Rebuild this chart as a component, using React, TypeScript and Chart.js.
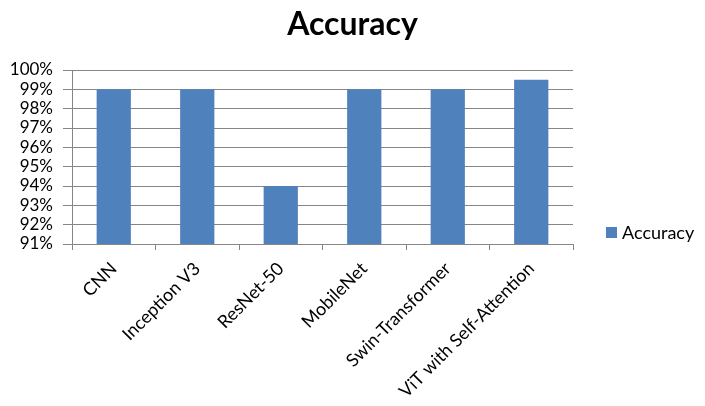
import React, { useEffect, useRef } from 'react';
import { Chart, registerables } from 'chart.js';

Chart.register(...registerables);

const chartTitle = 'Accuracy';
const seriesName = 'Accuracy';
const categories = ['CNN', 'Inception V3', 'ResNet-50', 'MobileNet', 'Swin-Transformer', 'ViT with Self-Attention'];
const accuracyValues = [99, 99, 94, 99, 99, 99.5];
const yMin = 91;
const yMax = 100;
const yStep = 1;

const FONT = 'Lato, "Liberation Sans", sans-serif';
const BAR_COLOR = '#4F81BD';
const GRID_COLOR = '#868686';

const legendPlugin = {
  id: 'rightLegend',
  afterDraw(chart: any) {
    const ctx = chart.ctx;
    const a = chart.chartArea;
    chart.data.datasets.forEach((ds: any) => {
      const x = a.right + 33;
      const y = a.bottom - 11.5;
      ctx.save();
      ctx.fillStyle = ds.backgroundColor;
      ctx.fillRect(x, y - 5.5, 11, 11);
      ctx.fillStyle = '#000';
      ctx.font = `18px ${FONT}`;
      ctx.textBaseline = 'middle';
      ctx.textAlign = 'left';
      ctx.fillText(ds.label, x + 16, y + 1);
      ctx.restore();
    });
  },
};

export default function App() {
  const ref = useRef<HTMLCanvasElement>(null);
  useEffect(() => {
    if (!ref.current) return;
    const chart = new Chart(ref.current, {
      type: 'bar',
      data: {
        labels: categories,
        datasets: [
          {
            label: seriesName,
            data: accuracyValues,
            backgroundColor: BAR_COLOR,
            borderWidth: 0,
            barPercentage: 0.41,
            categoryPercentage: 1,
          },
        ],
      },
      options: {
        responsive: false,
        animation: false,
        devicePixelRatio: 1,
        layout: { padding: 0 },
        plugins: {
          legend: { display: false },
          tooltip: { enabled: false },
          title: {
            display: true,
            text: chartTitle,
            color: '#000',
            font: { family: FONT, size: 32, weight: 'bold', lineHeight: 1.2 },
            padding: { top: 5, bottom: 26.6 },
          },
        },
        scales: {
          x: {
            afterFit: (scale: any) => {
              scale.height = 162;
            },
            grid: {
              offset: true,
              drawOnChartArea: false,
              drawTicks: true,
              tickLength: 6,
              color: GRID_COLOR,
            },
            border: { display: true, color: GRID_COLOR },
            ticks: {
              minRotation: 45,
              maxRotation: 45,
              autoSkip: false,
              color: '#000',
              padding: 8,
              font: { family: FONT, size: 18 },
            },
          },
          y: {
            min: yMin,
            max: yMax,
            afterFit: (scale: any) => {
              scale.width = 72;
            },
            grid: {
              color: GRID_COLOR,
              drawTicks: true,
              tickLength: 9,
            },
            border: { display: true, color: GRID_COLOR },
            ticks: {
              stepSize: yStep,
              autoSkip: false,
              color: '#000',
              padding: 10,
              font: { family: FONT, size: 17 },
              callback: (v: any) => `${v}%`,
            },
          },
          legendSpace: {
            type: 'linear',
            position: 'right',
            display: true,
            afterFit: (scale: any) => {
              scale.width = 132;
            },
            grid: { display: false },
            border: { display: false },
            ticks: { display: false },
          },
        },
      },
      plugins: [legendPlugin],
    });
    return () => chart.destroy();
  }, []);
  return (
    <div style={{ position: 'absolute', left: 0, top: 0, width: 705, height: 406, overflow: 'hidden', background: '#fff' }}>
      <canvas ref={ref} width={705} height={406} />
    </div>
  );
}
